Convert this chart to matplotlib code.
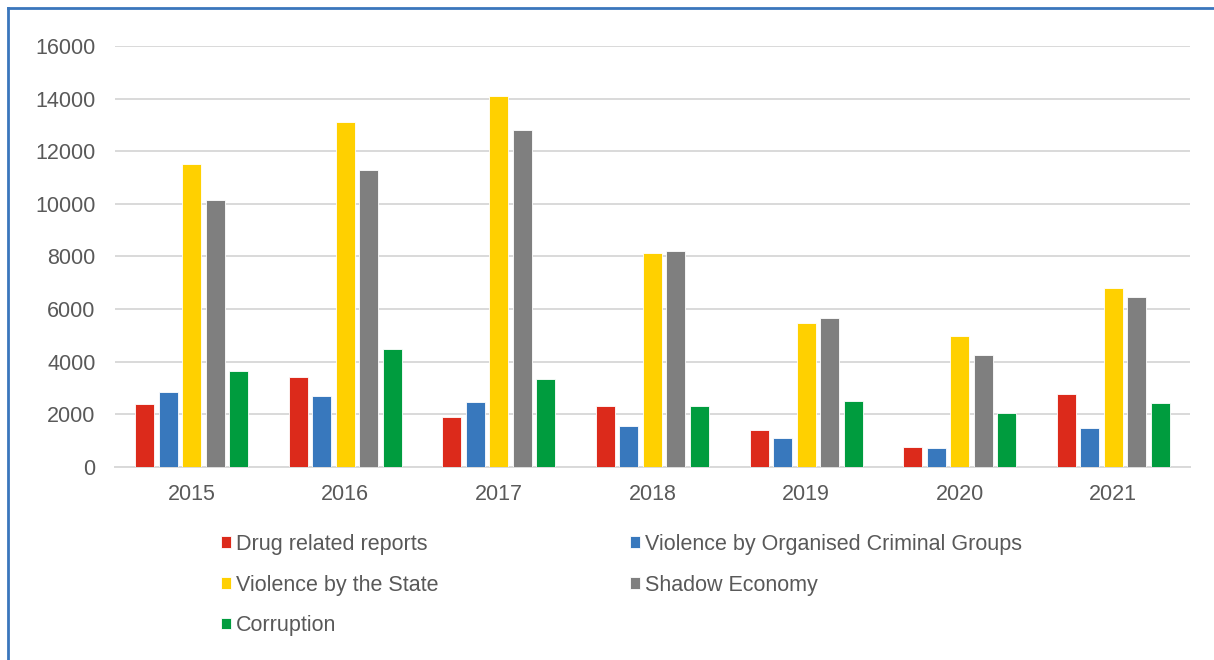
import numpy as np
import matplotlib.pyplot as plt
from matplotlib.lines import Line2D

years = ['2015', '2016', '2017', '2018', '2019', '2020', '2021']
drug = [2400, 3420, 1900, 2320, 1410, 760, 2780]
violence_ocg = [2850, 2700, 2470, 1560, 1100, 720, 1480]
violence_state = [11520, 13100, 14100, 8140, 5480, 4980, 6800]
shadow = [10150, 11290, 12810, 8210, 5670, 4260, 6460]
corruption = [3650, 4490, 3350, 2320, 2510, 2050, 2430]

series = [
    ('Drug related reports', drug, '#dc2a1b'),
    ('Violence by Organised Criminal Groups', violence_ocg, '#3878bd'),
    ('Violence by the State', violence_state, '#ffd000'),
    ('Shadow Economy', shadow, '#7f7f7f'),
    ('Corruption', corruption, '#009c3e'),
]

plt.rcParams['font.family'] = ['Liberation Sans', 'DejaVu Sans']

fig = plt.figure(figsize=(12.14, 6.6), dpi=100)
ax = fig.add_axes([0.0947, 0.2924, 0.8855, 0.638])

x = np.arange(len(years))
step = 0.153
width = 0.124
for i, (name, vals, col) in enumerate(series):
    ax.bar(x + (i - 2) * step, vals, width, color=col, label=name,
           edgecolor='white', linewidth=0.6, zorder=3)

ax.set_xlim(-0.5, len(years) - 0.5)
ax.set_ylim(0, 16000)
ax.set_yticks(range(0, 16001, 2000))
ax.set_xticks(x)
ax.set_xticklabels(years)
ax.grid(axis='y', color='#d9d9d9', linewidth=1.4, zorder=0)
for s in ['top', 'right', 'left']:
    ax.spines[s].set_visible(False)
ax.spines['bottom'].set_color('#d9d9d9')
ax.spines['bottom'].set_linewidth(1.4)
ax.tick_params(length=0, labelsize=15.5, labelcolor='#595959')
ax.tick_params(axis='y', pad=14)
ax.tick_params(axis='x', pad=12)

# legend is filled row by row in the reference -> reorder for column-major fill
handles, labels = ax.get_legend_handles_labels()
order = [0, 2, 4, 1, 3]
fig.legend([handles[k] for k in order], [labels[k] for k in order],
           ncol=2, loc='upper left',
           bbox_to_anchor=(0.182, 0.191), frameon=False,
           fontsize=15.5, labelcolor='#595959', handlelength=0.47,
           handleheight=0.47, handletextpad=0.23, labelspacing=0.91,
           columnspacing=8.9, borderpad=0, borderaxespad=0)

# blue outer frame (only left and top are inside the picture)
fig.add_artist(Line2D([0.0066, 0.0066], [0, 0.988], color='#3a76bc',
                      linewidth=2, transform=fig.transFigure))
fig.add_artist(Line2D([0.0066, 1.0], [0.988, 0.988], color='#3a76bc',
                      linewidth=2, transform=fig.transFigure))

fig.savefig('out.png', dpi=100)
